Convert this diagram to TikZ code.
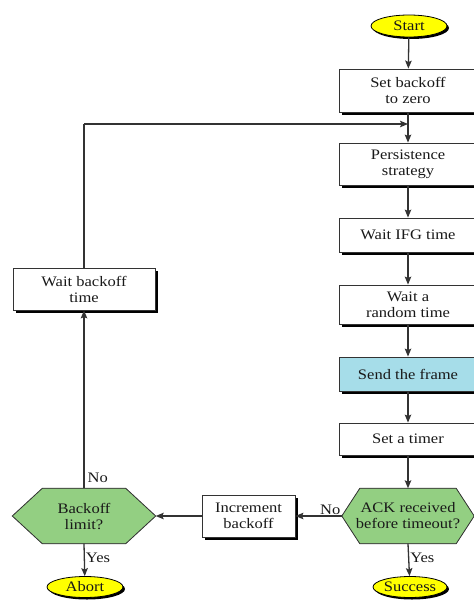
\documentclass[tikz,border=0pt]{standalone}
\usepackage{fontspec}
\setmainfont{Liberation Serif}[FakeStretch=1.14]
\usetikzlibrary{arrows.meta,shadows,backgrounds,shapes.geometric}

\definecolor{termfill}{HTML}{FFFF00}
\definecolor{decfill}{HTML}{93CF82}
\definecolor{sendfill}{HTML}{A6DDE9}
\definecolor{edge}{HTML}{333333}

% hexagon outline around a node whose west/east anchors are the tips
\newcommand\hexoutline[2]{(#1.west) -- ([xshift=#2]#1.north west) -- ([xshift=-#2]#1.north east)
  -- (#1.east) -- ([xshift=-#2]#1.south east) -- ([xshift=#2]#1.south west) -- cycle}

\begin{document}
\begin{tikzpicture}[x=1pt,y=-1pt,
  every node/.style={font=\fontsize{14.5}{16}\selectfont, text=black!90},
  stepbox/.style={draw=edge, line width=0.8pt, fill=white, minimum width=138pt,
    align=center, inner sep=0pt,
    drop shadow={shadow xshift=3pt, shadow yshift=-3pt, fill=black, opacity=1}},
  termbox/.style={ellipse, draw=black, line width=0.8pt, fill=termfill, inner sep=0pt,
    drop shadow={shadow xshift=2pt, shadow yshift=-2pt, fill=black, opacity=1}},
  decbox/.style={rectangle, align=center, inner sep=0pt, minimum height=55pt},
  flow/.style={draw=edge, line width=1.3pt, -{Stealth[length=8pt,width=6.5pt,inset=1.5pt]}},
  plain/.style={draw=edge, line width=1.3pt},
  lbl/.style={inner sep=1pt}]

\useasboundingbox (0,0) rectangle (473,601);

% main column
\node[termbox, minimum width=76pt, minimum height=22pt] (start) at (409,26) {Start};
\node[stepbox, minimum height=43pt] (zero) at (408,90.5) {Set backoff\\to zero};
\node[stepbox, minimum height=42pt] (persist) at (408,164) {Persistence\\strategy};
\node[stepbox, minimum height=34pt] (ifg) at (408,235) {Wait IFG time};
\node[stepbox, minimum height=39pt] (rand) at (408,304.5) {Wait a\\random time};
\node[stepbox, minimum height=34pt, fill=sendfill] (send) at (408,374) {Send the frame};
\node[stepbox, minimum height=32pt] (timer) at (408,439) {Set a timer};
\node[decbox, minimum width=132pt] (ack) at (408,516) {ACK received\\before timeout?};
\node[termbox, minimum width=74pt, minimum height=21pt] (success) at (410,587) {Success};

% retry branch
\node[stepbox, minimum width=93pt, minimum height=42pt] (incr) at (248.5,516) {Increment\\backoff};
\node[decbox, minimum width=143pt] (limit) at (84,516) {Backoff\\limit?};
\node[termbox, minimum width=76pt, minimum height=21pt] (abort) at (85,587) {Abort};
\node[stepbox, minimum width=142pt, minimum height=42pt] (waitbo) at (84,289) {Wait backoff\\time};

\coordinate (merge) at (408,124);
\coordinate (corner) at (84,124);

% page background, then the decision hexagons with their shadows
\begin{scope}[on background layer]
  \fill[white] (0,0) rectangle (473,601);
  \fill[black, shift={(3.5,3.5)}] \hexoutline{ack}{18pt};
  \filldraw[fill=decfill, draw=edge, line width=0.8pt] \hexoutline{ack}{18pt};
  \fill[black, shift={(3.5,3.5)}] \hexoutline{limit}{30pt};
  \filldraw[fill=decfill, draw=edge, line width=0.8pt] \hexoutline{limit}{30pt};
\end{scope}

% connectors
\draw[flow] (start) -- (zero);
\draw[flow] (zero) -- (persist);
\draw[flow] (persist) -- (ifg);
\draw[flow] (ifg) -- (rand);
\draw[flow] (rand) -- (send);
\draw[flow] (send) -- (timer);
\draw[flow] (timer) -- (ack.north);
\draw[flow] (ack.south) -- node[lbl, right, pos=0.45] {Yes} (success);
\draw[flow] (ack.west) -- node[lbl, above, pos=0.25] {No} (incr);
\draw[flow] (incr) -- (limit.east);
\draw[flow] (limit.south) -- node[lbl, right, pos=0.45] {Yes} (abort);
\draw[flow] (limit.north) -- node[lbl, right, pos=0.06, xshift=2pt] {No} (waitbo);
\draw[plain] (waitbo) -- (corner);
\draw[flow] (corner) -- (merge);

\end{tikzpicture}
\end{document}
